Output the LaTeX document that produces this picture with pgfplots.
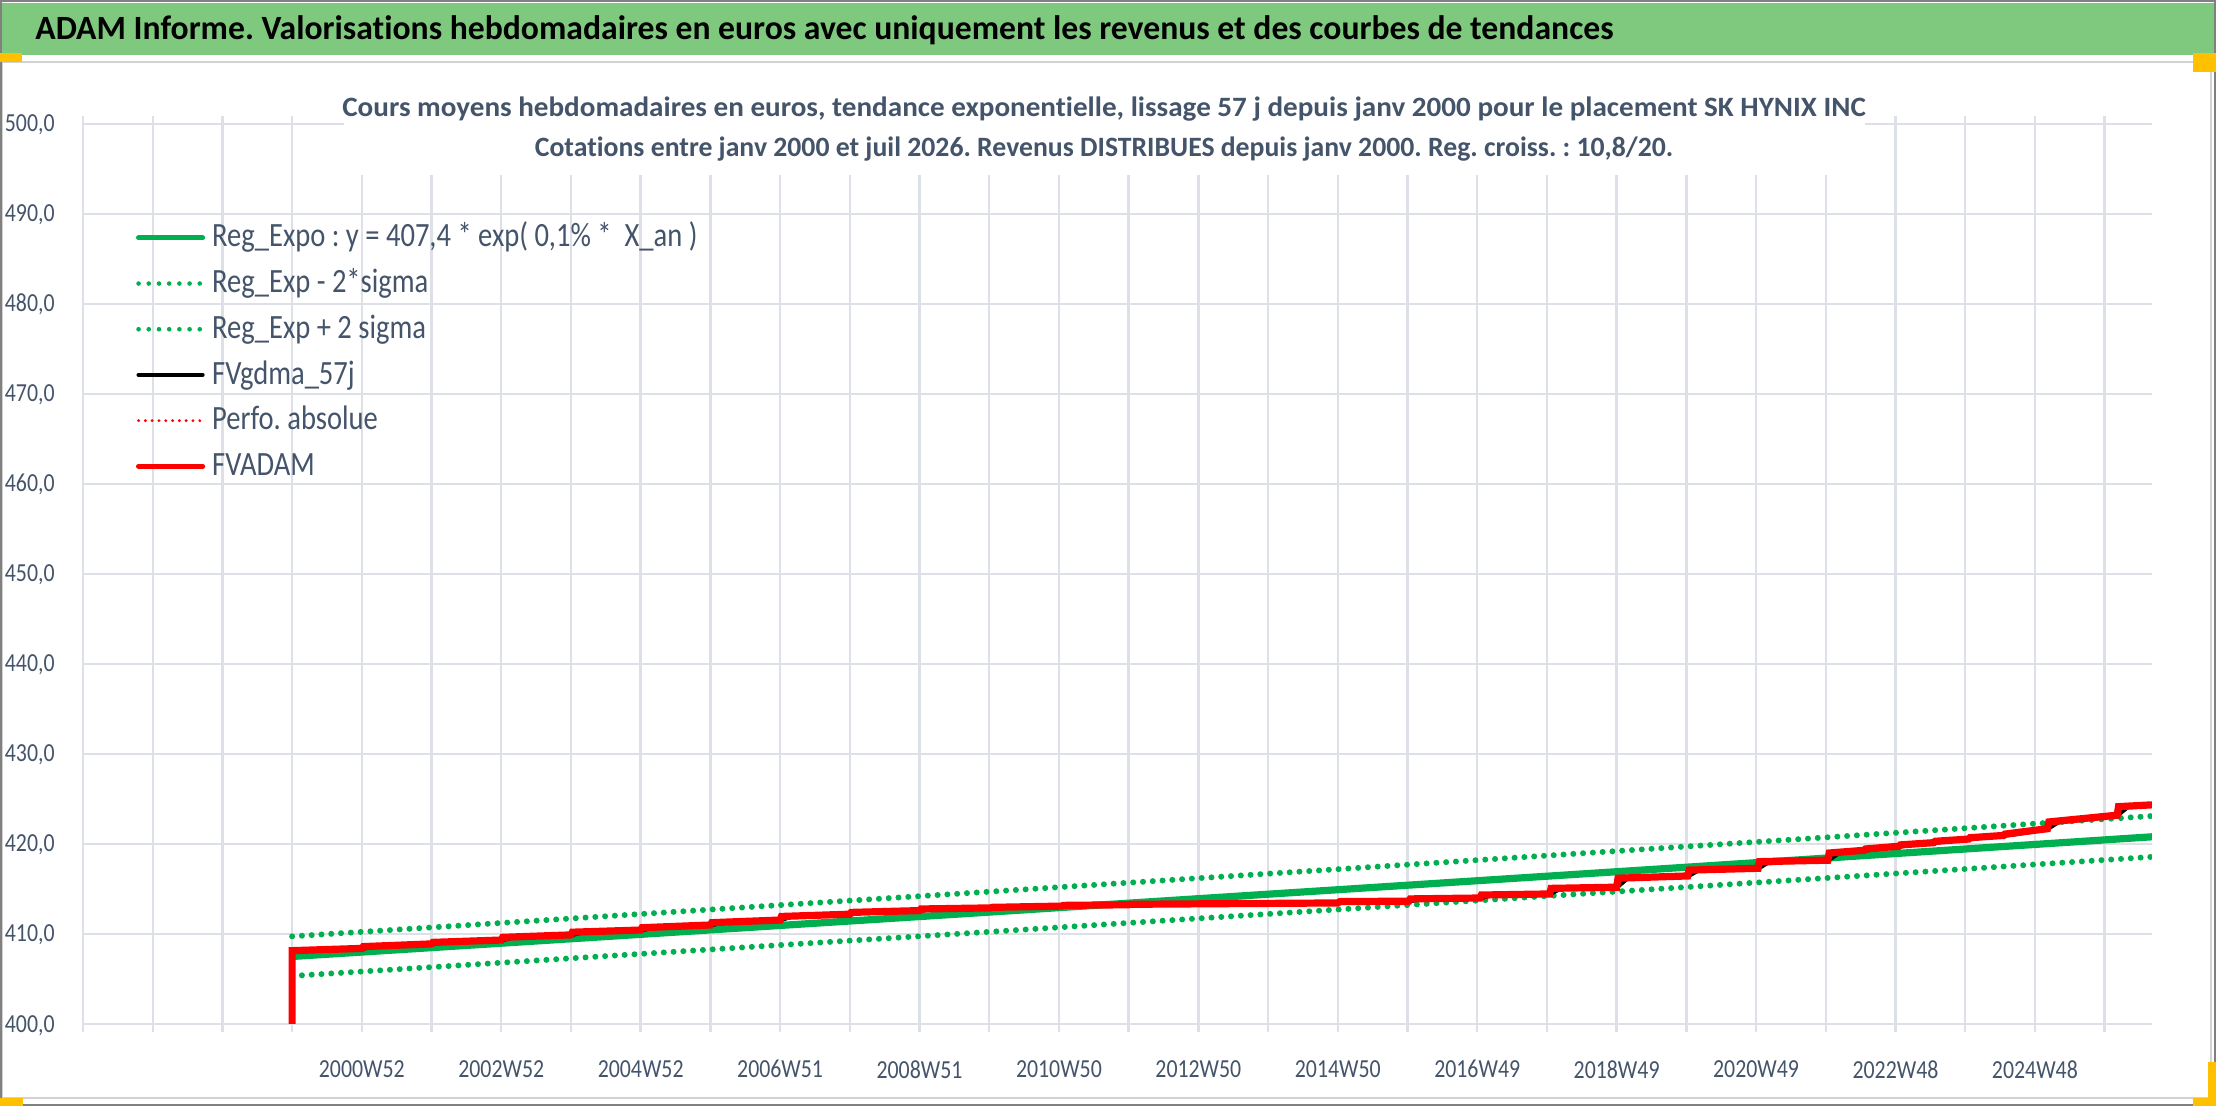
\documentclass[border=0pt]{standalone}
\usepackage{fontspec}
\setmainfont{Carlito}[FakeStretch=0.84, Ligatures=NoCommon]
\newfontfamily\bannerfont{Carlito}[FakeStretch=0.99, Ligatures=NoCommon]
\newfontfamily\ctitlefont{Carlito}[FakeStretch=1.04, Ligatures=NoCommon]
\newfontfamily\ctitlefontb{Carlito}[FakeStretch=0.99, Ligatures=NoCommon]
\usepackage{pgfplots}
\pgfplotsset{compat=1.18}
\definecolor{gridc}{HTML}{DDE1E7}
\definecolor{txt}{HTML}{44546A}
\definecolor{bar}{HTML}{7FC97F}
\definecolor{xgreen}{HTML}{00B050}
\definecolor{gold}{HTML}{FFC000}
\definecolor{xred}{HTML}{FF0000}
\begin{document}
\frenchspacing
\begin{tikzpicture}
\useasboundingbox (0bp,0bp) rectangle (1108bp,553bp);
\fill[white] (0bp,0bp) rectangle (1108bp,553bp);
% chart area border
\draw[gray!35, line width=1bp] (1bp,4bp) rectangle (1105.5bp,522bp);
% title bar
\fill[bar] (0bp,525.5bp) rectangle (1108bp,551.5bp);
\draw[gray, line width=1bp] (0bp,552.5bp) -- (1108bp,552.5bp);
\draw[gray, line width=1bp] (0bp,0.5bp) -- (1108bp,0.5bp);
\draw[gray, line width=0.8bp] (0.4bp,0bp) -- (0.4bp,553bp);
\draw[gray, line width=0.8bp] (1107.6bp,0bp) -- (1107.6bp,553bp);
% handles
\fill[gold] (0bp,522bp) rectangle (11bp,526.5bp);
\fill[gold] (1096.5bp,517bp) rectangle (1108bp,526.5bp);
\fill[gold] (0bp,0bp) rectangle (11.5bp,4bp);
\fill[gold] (1096.5bp,0bp) rectangle (1108bp,4bp);
\fill[gold] (1104bp,0bp) rectangle (1108bp,22bp);

\begin{axis}[
  at={(41.5bp,41bp)}, anchor=south west, scale only axis,
  width=1034.5bp, height=450bp,
  xmin=0, xmax=29.68, ymin=400, ymax=500,
  axis line style={draw=none},
  xtick={0,...,29},
  xticklabels={{},{},{},{},2000W52,{},2002W52,{},2004W52,{},2006W51,{},2008W51,{},2010W50,{},2012W50,{},2014W50,{},2016W49,{},2018W49,{},2020W49,{},2022W48,{},2024W48,{}},
  ytick={400,410,...,500},
  grid=major,
  major grid style={gridc, line width=1.2bp},
  tick align=outside,
  major tick length=4bp,
  x tick style={gridc, line width=1.2bp},
  y tick style={draw=none},
  ticklabel style={font=\fontsize{13bp}{15bp}\selectfont, text=txt},
  xticklabel style={inner sep=0pt, anchor=north, yshift=-14bp},
  yticklabel style={inner sep=0pt, anchor=base east, xshift=-10bp, yshift=-4bp},
  /pgf/number format/.cd, fixed, fixed zerofill, precision=1, use comma, 1000 sep={}, assume math mode=true,
  /pgfplots/.cd,
  legend image code/.code={\draw[#1] (0bp,0bp) -- (32bp,0bp);},
  legend cell align=left,
  legend style={at={(0.0256,0.8989)}, anchor=north west, draw=none, fill=none,
    inner sep=0pt, outer sep=0pt, row sep=0pt, column sep=3.5bp,
    font=\fontsize{17bp}{20bp}\selectfont, text=txt,
    nodes={inner sep=0pt, text height=16bp, text depth=6.85bp}},
]
% Reg_Expo
\addplot[xgreen, line width=3.6bp, forget plot] coordinates {
(3,407.50) (8,409.96) (13,412.43) (18,414.92) (23,417.42) (29.68,420.80)};
% Reg_Exp - 2 sigma
\addplot[xgreen, line width=3bp, line cap=round, dash pattern=on 0pt off 4.9bp, forget plot] coordinates {
(3,405.34) (8,407.79) (13,410.24) (18,412.72) (23,415.21) (29.68,418.57)};
% Reg_Exp + 2 sigma
\addplot[xgreen, line width=3bp, line cap=round, dash pattern=on 0pt off 4.9bp, forget plot] coordinates {
(3,409.74) (8,412.22) (13,414.70) (18,417.20) (23,419.72) (29.68,423.11)};
% FVgdma_57j
\addplot[black, line width=2.5bp, forget plot] coordinates {
(3.00,408.15) (4.00,408.40) (4.15,408.60) (5.00,408.90) (5.15,409.07) (6.00,409.33) (6.15,409.63)
(7.00,409.90) (7.15,410.20) (8.00,410.44) (8.15,410.70) (9.00,411.00) (9.15,411.26) (10.00,411.55)
(10.15,411.95) (11.00,412.20) (11.15,412.40) (12.00,412.60) (12.15,412.78) (13.02,412.90) (13.17,412.96)
(14.04,413.10) (14.19,413.18) (15.00,413.25) (15.15,413.30) (16.00,413.35) (17.00,413.40) (18.00,413.45)
(18.15,413.60) (19.02,413.65) (19.17,413.90) (20.04,414.00) (20.19,414.33) (21.04,414.45) (21.19,415.07)
(22.00,415.20) (22.15,416.20) (23.02,416.45) (23.17,417.10) (24.03,417.30) (24.18,418.04) (25.03,418.20)
(25.18,419.00) (25.55,419.30) (25.70,419.45) (26.05,419.75) (26.20,419.90) (26.55,420.15) (26.70,420.30)
(27.05,420.55) (27.20,420.70) (27.55,420.95) (27.70,421.10) (28.18,421.70) (28.33,422.45) (29.18,423.20)
(29.33,424.15) (29.68,424.35)};
% FVADAM
\addplot[xred, line width=3.6bp, forget plot] coordinates {
(3.00,400.00) (3.00,408.15) (4.00,408.40) (4.02,408.60) (5.00,408.90) (5.02,409.07) (6.00,409.33)
(6.02,409.63) (7.00,409.90) (7.02,410.20) (8.00,410.44) (8.02,410.70) (9.00,411.00) (9.02,411.26)
(10.00,411.55) (10.02,411.95) (11.00,412.20) (11.02,412.40) (12.00,412.60) (12.02,412.78) (13.02,412.90)
(13.04,412.96) (14.04,413.10) (14.06,413.18) (15.00,413.25) (15.02,413.30) (16.00,413.35) (17.00,413.40)
(18.00,413.45) (18.03,413.60) (19.02,413.65) (19.04,413.90) (20.04,414.00) (20.06,414.33) (21.04,414.45)
(21.06,415.07) (22.00,415.20) (22.02,416.20) (23.02,416.45) (23.04,417.10) (24.03,417.30) (24.05,418.04)
(25.03,418.20) (25.05,419.00) (25.55,419.30) (25.57,419.45) (26.05,419.75) (26.07,419.90) (26.55,420.15)
(26.57,420.30) (27.05,420.55) (27.07,420.70) (27.55,420.95) (27.57,421.10) (28.18,421.70) (28.20,422.45)
(29.18,423.20) (29.20,424.15) (29.68,424.35)};
% legend
\addlegendimage{xgreen, line width=2.6bp, line cap=round}
\addlegendentry{Reg\_Expo : y = 407,4 * exp( 0,1\% *\ \ X\_an )}
\addlegendimage{xgreen, line width=2.3bp, line cap=round, dash pattern=on 0pt off 5.1bp}
\addlegendentry{Reg\_Exp - 2*sigma}
\addlegendimage{xgreen, line width=2.3bp, line cap=round, dash pattern=on 0pt off 5.1bp}
\addlegendentry{Reg\_Exp + 2 sigma}
\addlegendimage{black, line width=2.1bp, line cap=round}
\addlegendentry{FVgdma\_57j}
\addlegendimage{xred, line width=1.6bp, line cap=round, dash pattern=on 0pt off 3.4bp}
\addlegendentry{Perfo. absolue}
\addlegendimage{xred, line width=2.6bp, line cap=round}
\addlegendentry{FVADAM}
\end{axis}

% chart title
\fill[white] (172bp,465.5bp) rectangle (932.5bp,512bp);
\node[anchor=base, inner sep=0pt, text=txt, font=\ctitlefont\bfseries\fontsize{14bp}{16bp}\selectfont] at (552bp,494.5bp)
  {Cours moyens hebdomadaires en euros, tendance exponentielle, lissage 57 j depuis janv 2000 pour le placement SK HYNIX INC};
\node[anchor=base, inner sep=0pt, text=txt, font=\ctitlefontb\bfseries\fontsize{14bp}{16bp}\selectfont] at (552bp,474.5bp)
  {Cotations entre janv 2000 et juil 2026. Revenus DISTRIBUES depuis janv 2000. Reg. croiss. : 10,8/20.};
% top banner title
\node[anchor=base west, inner sep=0pt, text=black, font=\bannerfont\bfseries\fontsize{17bp}{20bp}\selectfont] at (17.5bp,533bp)
  {ADAM Informe. Valorisations hebdomadaires en euros avec uniquement les revenus et des courbes de tendances};
\end{tikzpicture}
\end{document}
